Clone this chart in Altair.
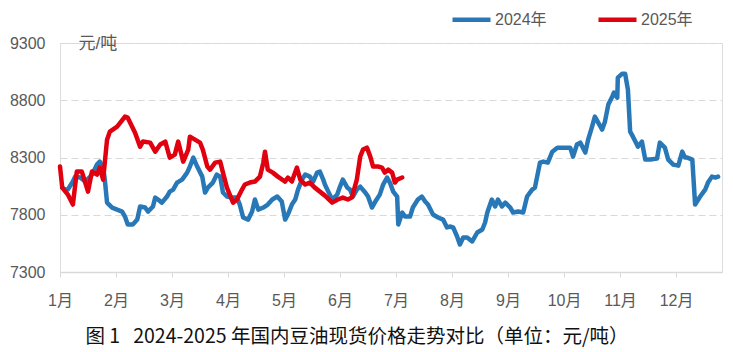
import altair as alt
import pandas as pd

# 2024 series: month position (1 = start of Jan) and price (元/吨)
m2024 = [1.04, 1.09, 1.14, 1.23, 1.27, 1.36, 1.45, 1.54, 1.59, 1.66, 1.71, 1.77, 1.80, 1.84, 1.93,
         2.11, 2.16, 2.21, 2.30, 2.38, 2.43, 2.52, 2.57, 2.66, 2.70, 2.75, 2.82, 2.91, 2.96, 3.02,
         3.09, 3.18, 3.27, 3.32, 3.38, 3.45, 3.54, 3.59, 3.64, 3.73, 3.80, 3.86, 3.91, 3.98, 4.07,
         4.16, 4.21, 4.27, 4.36, 4.43, 4.48, 4.54, 4.63, 4.71, 4.79, 4.88, 4.96, 5.02, 5.07, 5.14,
         5.20, 5.25, 5.32, 5.38, 5.46, 5.52, 5.59, 5.64, 5.70, 5.73, 5.79, 5.86, 5.95, 6.00, 6.05,
         6.13, 6.18, 6.23, 6.30, 6.36, 6.45, 6.50, 6.57, 6.63, 6.71, 6.77, 6.84, 6.89, 6.95, 7.02,
         7.04, 7.11, 7.16, 7.25, 7.30, 7.39, 7.46, 7.52, 7.57, 7.66, 7.75, 7.84, 7.91, 7.96, 8.02,
         8.09, 8.14, 8.20, 8.27, 8.36, 8.45, 8.54, 8.59, 8.63, 8.71, 8.77, 8.82, 8.89, 8.95, 9.04,
         9.09, 9.18, 9.27, 9.34, 9.43, 9.48, 9.57, 9.63, 9.71, 9.79, 9.88, 10.11, 10.16, 10.23, 10.29,
         10.38, 10.43, 10.50, 10.55, 10.68, 10.73, 10.79, 10.86, 10.89, 10.95, 10.96, 11.04, 11.09,
         11.14, 11.18, 11.23, 11.32, 11.39, 11.45, 11.54, 11.66, 11.71, 11.80, 11.86, 11.95, 12.04,
         12.11, 12.16, 12.20, 12.29, 12.34, 12.43, 12.52, 12.57, 12.64, 12.70, 12.75]
p2024 = [8037, 8020, 8020, 8090, 8133, 8125, 8090, 8133, 8168, 8238, 8264, 8212, 8107, 7906, 7863,
         7828, 7784, 7715, 7715, 7758, 7872, 7863, 7828, 7872, 7950, 7933, 7906, 7959, 8002, 8020,
         8081, 8107, 8168, 8221, 8299, 8221, 8133, 7994, 8037, 8081, 8151, 8133, 7994, 7959, 7950,
         7950, 7889, 7776, 7758, 7828, 7933, 7845, 7863, 7889, 7933, 7959, 7915, 7758, 7802, 7889,
         7933, 8020, 8107, 8151, 8133, 8090, 8168, 8177, 8107, 8064, 8002, 7933, 7976, 8046, 8107,
         8037, 8020, 7959, 8020, 8046, 7994, 7959, 7863, 7915, 7976, 8064, 8125, 8081, 8002, 7959,
         7715, 7819, 7784, 7784, 7863, 7933, 7959, 7915, 7889, 7802, 7776, 7758, 7689, 7697, 7689,
         7610, 7541, 7602, 7602, 7567, 7645, 7671, 7732, 7819, 7933, 7872, 7933, 7872, 7906, 7863,
         7819, 7828, 7819, 7959, 8020, 8037, 8255, 8264, 8255, 8351, 8386, 8386, 8308, 8413, 8430,
         8343, 8456, 8570, 8657, 8544, 8613, 8762, 8831, 8866, 8823, 8997, 9032, 9032,
         8892, 8526, 8482, 8395, 8439, 8282, 8282, 8290, 8430, 8386, 8282, 8238, 8229,
         8351, 8299, 8299, 8282, 7889, 7959, 8020, 8081, 8133, 8125, 8133]

# 2025 series
m2025 = [1.00, 1.04, 1.14, 1.23, 1.30, 1.39, 1.50, 1.57, 1.66, 1.71, 1.77, 1.84, 1.89, 2.02, 2.16,
         2.21, 2.34, 2.43, 2.48, 2.61, 2.70, 2.79, 2.88, 2.96, 3.05, 3.11, 3.20, 3.29, 3.32, 3.50,
         3.55, 3.63, 3.68, 3.77, 3.86, 3.91, 3.98, 4.09, 4.16, 4.25, 4.30, 4.39, 4.48, 4.57, 4.63,
         4.66, 4.71, 4.80, 4.89, 5.02, 5.07, 5.14, 5.23, 5.29, 5.38, 5.46, 5.55, 5.64, 5.73, 5.86,
         5.96, 6.05, 6.14, 6.21, 6.30, 6.36, 6.41, 6.48, 6.54, 6.59, 6.68, 6.75, 6.80, 6.86, 6.93,
         6.98, 7.02, 7.11]
p2025 = [8221, 8037, 7976, 7889, 8177, 8177, 8002, 8177, 8151, 8212, 8107, 8456, 8526, 8570, 8657,
         8648, 8517, 8395, 8439, 8430, 8351, 8413, 8439, 8299, 8325, 8439, 8264, 8369, 8482, 8430,
         8369, 8221, 8194, 8255, 8264, 8168, 8037, 7906, 7933, 8020, 8064, 8081, 8090, 8133, 8255,
         8351, 8194, 8168, 8133, 8090, 8125, 8090, 8212, 8107, 8064, 8081, 8037, 8002, 7967, 7906,
         7933, 7950, 7933, 7950, 8107, 8308, 8369, 8386, 8308, 8221, 8221, 8212, 8168, 8194, 8168,
         8081, 8107, 8125]

series_names = ["2024年", "2025年"]
series_colors = ["#2878B8", "#E0000F"]
y_ticks = [7300, 7800, 8300, 8800, 9300]
month_ticks = list(range(1, 13))
caption = "图 1\u00a0\u00a0\u00a02024-2025 年国内豆油现货价格走势对比（单位：元/吨）"

df = pd.concat([
    pd.DataFrame({"m": m2024, "price": p2024, "year": series_names[0], "order": 0}),
    pd.DataFrame({"m": m2025, "price": p2025, "year": series_names[1], "order": 1}),
])

font = "Liberation Sans, Noto Sans CJK SC, sans-serif"
grey = "#595959"

chart = alt.Chart(df).mark_line(strokeWidth=4.5, strokeJoin="round", strokeCap="round").encode(
    x=alt.X("m:Q",
            scale=alt.Scale(domain=[1, 12.82], nice=False, zero=False),
            axis=alt.Axis(values=month_ticks, labelExpr="datum.value + '月'", grid=False,
                          labelFlush=False, labelOverlap=False, tickSize=5,
                          tickColor="#d9d9d9", domainColor="#d9d9d9", domainWidth=1.5,
                          labelPadding=15, labelFontSize=16, labelColor=grey, labelFont=font,
                          title=None)),
    y=alt.Y("price:Q",
            scale=alt.Scale(domain=[7300, 9300], nice=False, zero=False),
            axis=alt.Axis(values=y_ticks, format="d", grid=True, gridColor="#d9d9d9",
                          gridDash=[7, 4], gridWidth=1.2, domain=False, ticks=False,
                          labelPadding=15, labelFontSize=16, labelColor=grey, labelFont=font,
                          title="元/吨", titleAngle=0, titleAlign="left", titleBaseline="middle",
                          titleX=18, titleY=0, titleFontSize=17, titleFontWeight="normal",
                          titleColor=grey, titleFont=font)),
    color=alt.Color("year:N",
                    scale=alt.Scale(domain=series_names, range=series_colors),
                    legend=alt.Legend(title=None, orient="none", legendX=390, legendY=-45,
                                      direction="horizontal", symbolType="stroke",
                                      symbolStrokeWidth=4.5, symbolSize=1444,
                                      labelFontSize=16, labelColor=grey, labelFont=font,
                                      columnPadding=42, labelOffset=2)),
    order="order:Q",
    detail="year:N",
).properties(
    width=662,
    height=229,
    title=alt.TitleParams(text=caption, orient="bottom", anchor="start", dx=76, offset=20,
                          fontSize=19.5, font="Noto Sans CJK SC", fontWeight="normal",
                          color="#111111"),
    autosize=alt.AutoSizeParams(type="none"),
    padding={"left": 60, "top": 43, "right": 11, "bottom": 80},
).configure_view(stroke=None).configure(background="white")

chart.save("out.html", embed_options={"renderer": "svg", "actions": False})
